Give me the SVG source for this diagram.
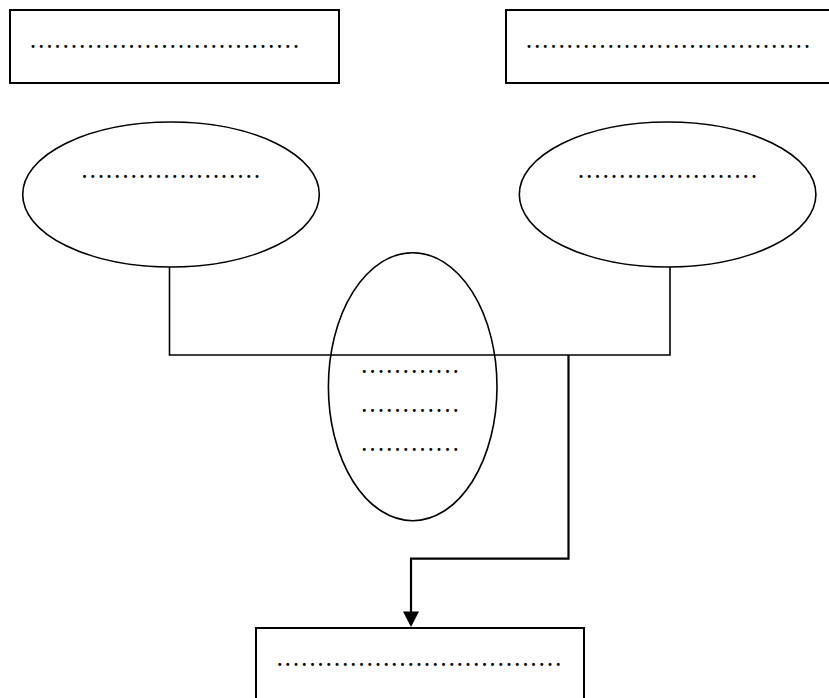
<svg xmlns="http://www.w3.org/2000/svg" width="829" height="698" viewBox="0 0 829 698">
<style>
.box{fill:none;stroke:#000;stroke-width:2}
.ell{fill:none;stroke:#000;stroke-width:1.6}
.dots{font-family:"Liberation Serif","Times New Roman",serif;font-size:18px;font-weight:bold;fill:#000}
.conn{fill:none;stroke:#000;stroke-width:1.6}
.conn2{fill:none;stroke:#000;stroke-width:2.2}
</style>
<rect width="829" height="698" fill="#fff"/>
<g id="node-top-left">
<rect class="box" x="10" y="10" width="329" height="73"/>
<text class="dots" x="30.7" y="47.5" textLength="267.5" lengthAdjust="spacing">.................................</text>
</g>
<g id="node-top-right">
<rect class="box" x="506" y="10" width="332" height="73"/>
<text class="dots" x="526.7" y="47.5" textLength="282.5" lengthAdjust="spacing">...................................</text>
</g>
<g id="node-ellipse-left">
<ellipse class="ell" cx="171" cy="194.5" rx="148.3" ry="72.5"/>
<text class="dots" x="82.2" y="177.5" textLength="177" lengthAdjust="spacing">......................</text>
</g>
<g id="node-ellipse-right">
<ellipse class="ell" cx="667.6" cy="194.5" rx="148.3" ry="72.5"/>
<text class="dots" x="578.7" y="177.5" textLength="177.5" lengthAdjust="spacing">......................</text>
</g>
<g id="node-ellipse-middle">
<ellipse class="ell" cx="412.7" cy="386.7" rx="84.3" ry="134"/>
<text class="dots" x="362" y="372.5" textLength="96" lengthAdjust="spacing">............</text>
<text class="dots" x="362" y="412" textLength="96" lengthAdjust="spacing">............</text>
<text class="dots" x="362" y="450.5" textLength="96" lengthAdjust="spacing">............</text>
</g>
<g id="node-bottom">
<rect class="box" x="256" y="628" width="328" height="90"/>
<text class="dots" x="277.4" y="665.5" textLength="283" lengthAdjust="spacing">...................................</text>
</g>
<g id="connectors">
<polyline class="conn" points="169.5,267 169.5,355 670,355 670,267"/>
<polyline class="conn2" points="568.5,355 568.5,558.7 411,558.7 411,613"/>
<polygon points="411,627 403,611.5 419,611.5" fill="#000"/>
</g>
</svg>
